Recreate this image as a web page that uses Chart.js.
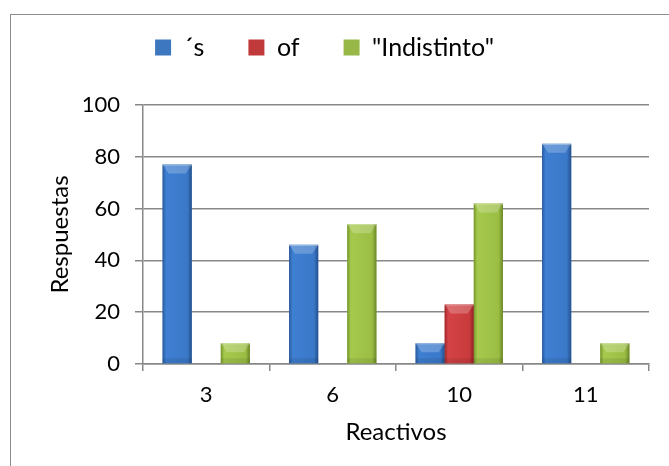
<!DOCTYPE html>
<html>
<head>
<meta charset="utf-8">
<script src="https://cdn.jsdelivr.net/npm/chart.js@4"></script>
<style>
  html, body { margin: 0; padding: 0; background: #fff; overflow: hidden; }
  #frame { position: absolute; left: 10px; top: 14px; width: 700px; height: 500px; border: 1px solid #8c8c8c; }
  #wrap { position: absolute; left: 0; top: 0; width: 669px; height: 466px; }
</style>
</head>
<body>
<div id="frame"></div>
<div id="wrap"><canvas id="chart" width="669" height="466"></canvas></div>
<script>
// data
const categories = ['3', '6', '10', '11'];
const seriesNames = ['\u00B4s', 'of', '"Indistinto"'];
const sValues = [77, 46, 8, 85];
const ofValues = [0, 0, 23, 0];
const indistintoValues = [8, 54, 62, 8];
const yTicks = [0, 20, 40, 60, 80, 100];

const FONT = 'Lato, "Open Sans", sans-serif';

// shading for the bevelled bars: edge, body, body, edge
const shades = [
    ['#2a5a9c', '#3f7fd2', '#3a78c8', '#24508c'],
    ['#9e2729', '#d44446', '#c83a3c', '#912224'],
    ['#76962c', '#a5c94d', '#9bbd44', '#6c8827']
];
const baseColors = ['#3c77c0', '#c0393b', '#97b847'];

const bevelPlugin = {
    id: 'bevel',
    afterInit(chart) {
        // keep the wide legend spacing, but make the legend box reach down to the plot top
        const lg = chart.legend;
        const fit = lg.fit;
        lg.fit = function () {
            fit.call(this);
            this.height = 114;
        };
    },
    afterDatasetsDraw(chart) {
        const ctx = chart.ctx;
        chart.data.datasets.forEach((ds, i) => {
            const meta = chart.getDatasetMeta(i);
            const sh = shades[i];
            meta.data.forEach(bar => {
                const h = bar.base - bar.y;
                if (h <= 0.5) return;
                const l = bar.x - bar.width / 2;
                const w = bar.width;
                ctx.save();
                const g = ctx.createLinearGradient(l, 0, l + w, 0);
                g.addColorStop(0, sh[0]);
                g.addColorStop(0.12, sh[1]);
                g.addColorStop(0.85, sh[2]);
                g.addColorStop(1, sh[3]);
                ctx.fillStyle = g;
                ctx.fillRect(l, bar.y, w, h);
                // top bevel
                const bh = Math.min(9, h);
                ctx.beginPath();
                ctx.moveTo(l, bar.y);
                ctx.lineTo(l + w, bar.y);
                ctx.lineTo(l + w - 6, bar.y + bh);
                ctx.lineTo(l + 6, bar.y + bh);
                ctx.closePath();
                ctx.fillStyle = 'rgba(255,255,255,0.22)';
                ctx.fill();
                ctx.fillStyle = 'rgba(255,255,255,0.35)';
                ctx.fillRect(l, bar.y, w, 1);
                // bottom shade
                ctx.fillStyle = 'rgba(0,0,0,0.08)';
                ctx.fillRect(l, bar.base - Math.min(5, h), w, Math.min(5, h));
                ctx.restore();
            });
        });
    }
};

const ctx = document.getElementById('chart').getContext('2d');
new Chart(ctx, {
    type: 'bar',
    data: {
        labels: categories,
        datasets: [
            { label: seriesNames[0], data: sValues, backgroundColor: baseColors[0] },
            { label: seriesNames[1], data: ofValues, backgroundColor: baseColors[1] },
            { label: seriesNames[2], data: indistintoValues, backgroundColor: baseColors[2] }
        ]
    },
    options: {
        responsive: false,
        animation: false,
        devicePixelRatio: 1,
        layout: { padding: { top: -9, right: 20, bottom: 0, left: 0 } },
        categoryPercentage: 0.69,
        barPercentage: 1,
        plugins: {
            tooltip: { enabled: false },
            legend: {
                position: 'top',
                labels: {
                    font: { family: FONT, size: 25 },
                    color: '#000',
                    boxWidth: 16,
                    boxHeight: 16,
                    padding: 44
                }
            }
        },
        scales: {
            x: {
                grid: { drawOnChartArea: false, tickLength: 7, color: '#888', lineWidth: 1.5 },
                border: { color: '#888', width: 1.5 },
                ticks: { font: { family: FONT, size: 22 }, color: '#000', padding: 11 },
                title: { display: true, text: 'Reactivos', font: { family: FONT, size: 24 }, color: '#000', padding: { top: 0, bottom: 19 } },
                afterFit(scale) { scale.height = 102; }
            },
            y: {
                min: yTicks[0],
                max: yTicks[yTicks.length - 1],
                ticks: {
                    stepSize: yTicks[1] - yTicks[0],
                    font: { family: FONT, size: 22 },
                    color: '#000',
                    padding: 15
                },
                grid: { color: '#888', lineWidth: 1.5, tickLength: 8 },
                border: { color: '#888', width: 1.5 },
                title: { display: true, text: 'Respuestas', font: { family: FONT, size: 24 }, color: '#000', padding: { top: 46, bottom: 0 } },
                afterFit(scale) { scale.width = 143; }
            }
        }
    },
    plugins: [bevelPlugin]
});
</script>
</body>
</html>
